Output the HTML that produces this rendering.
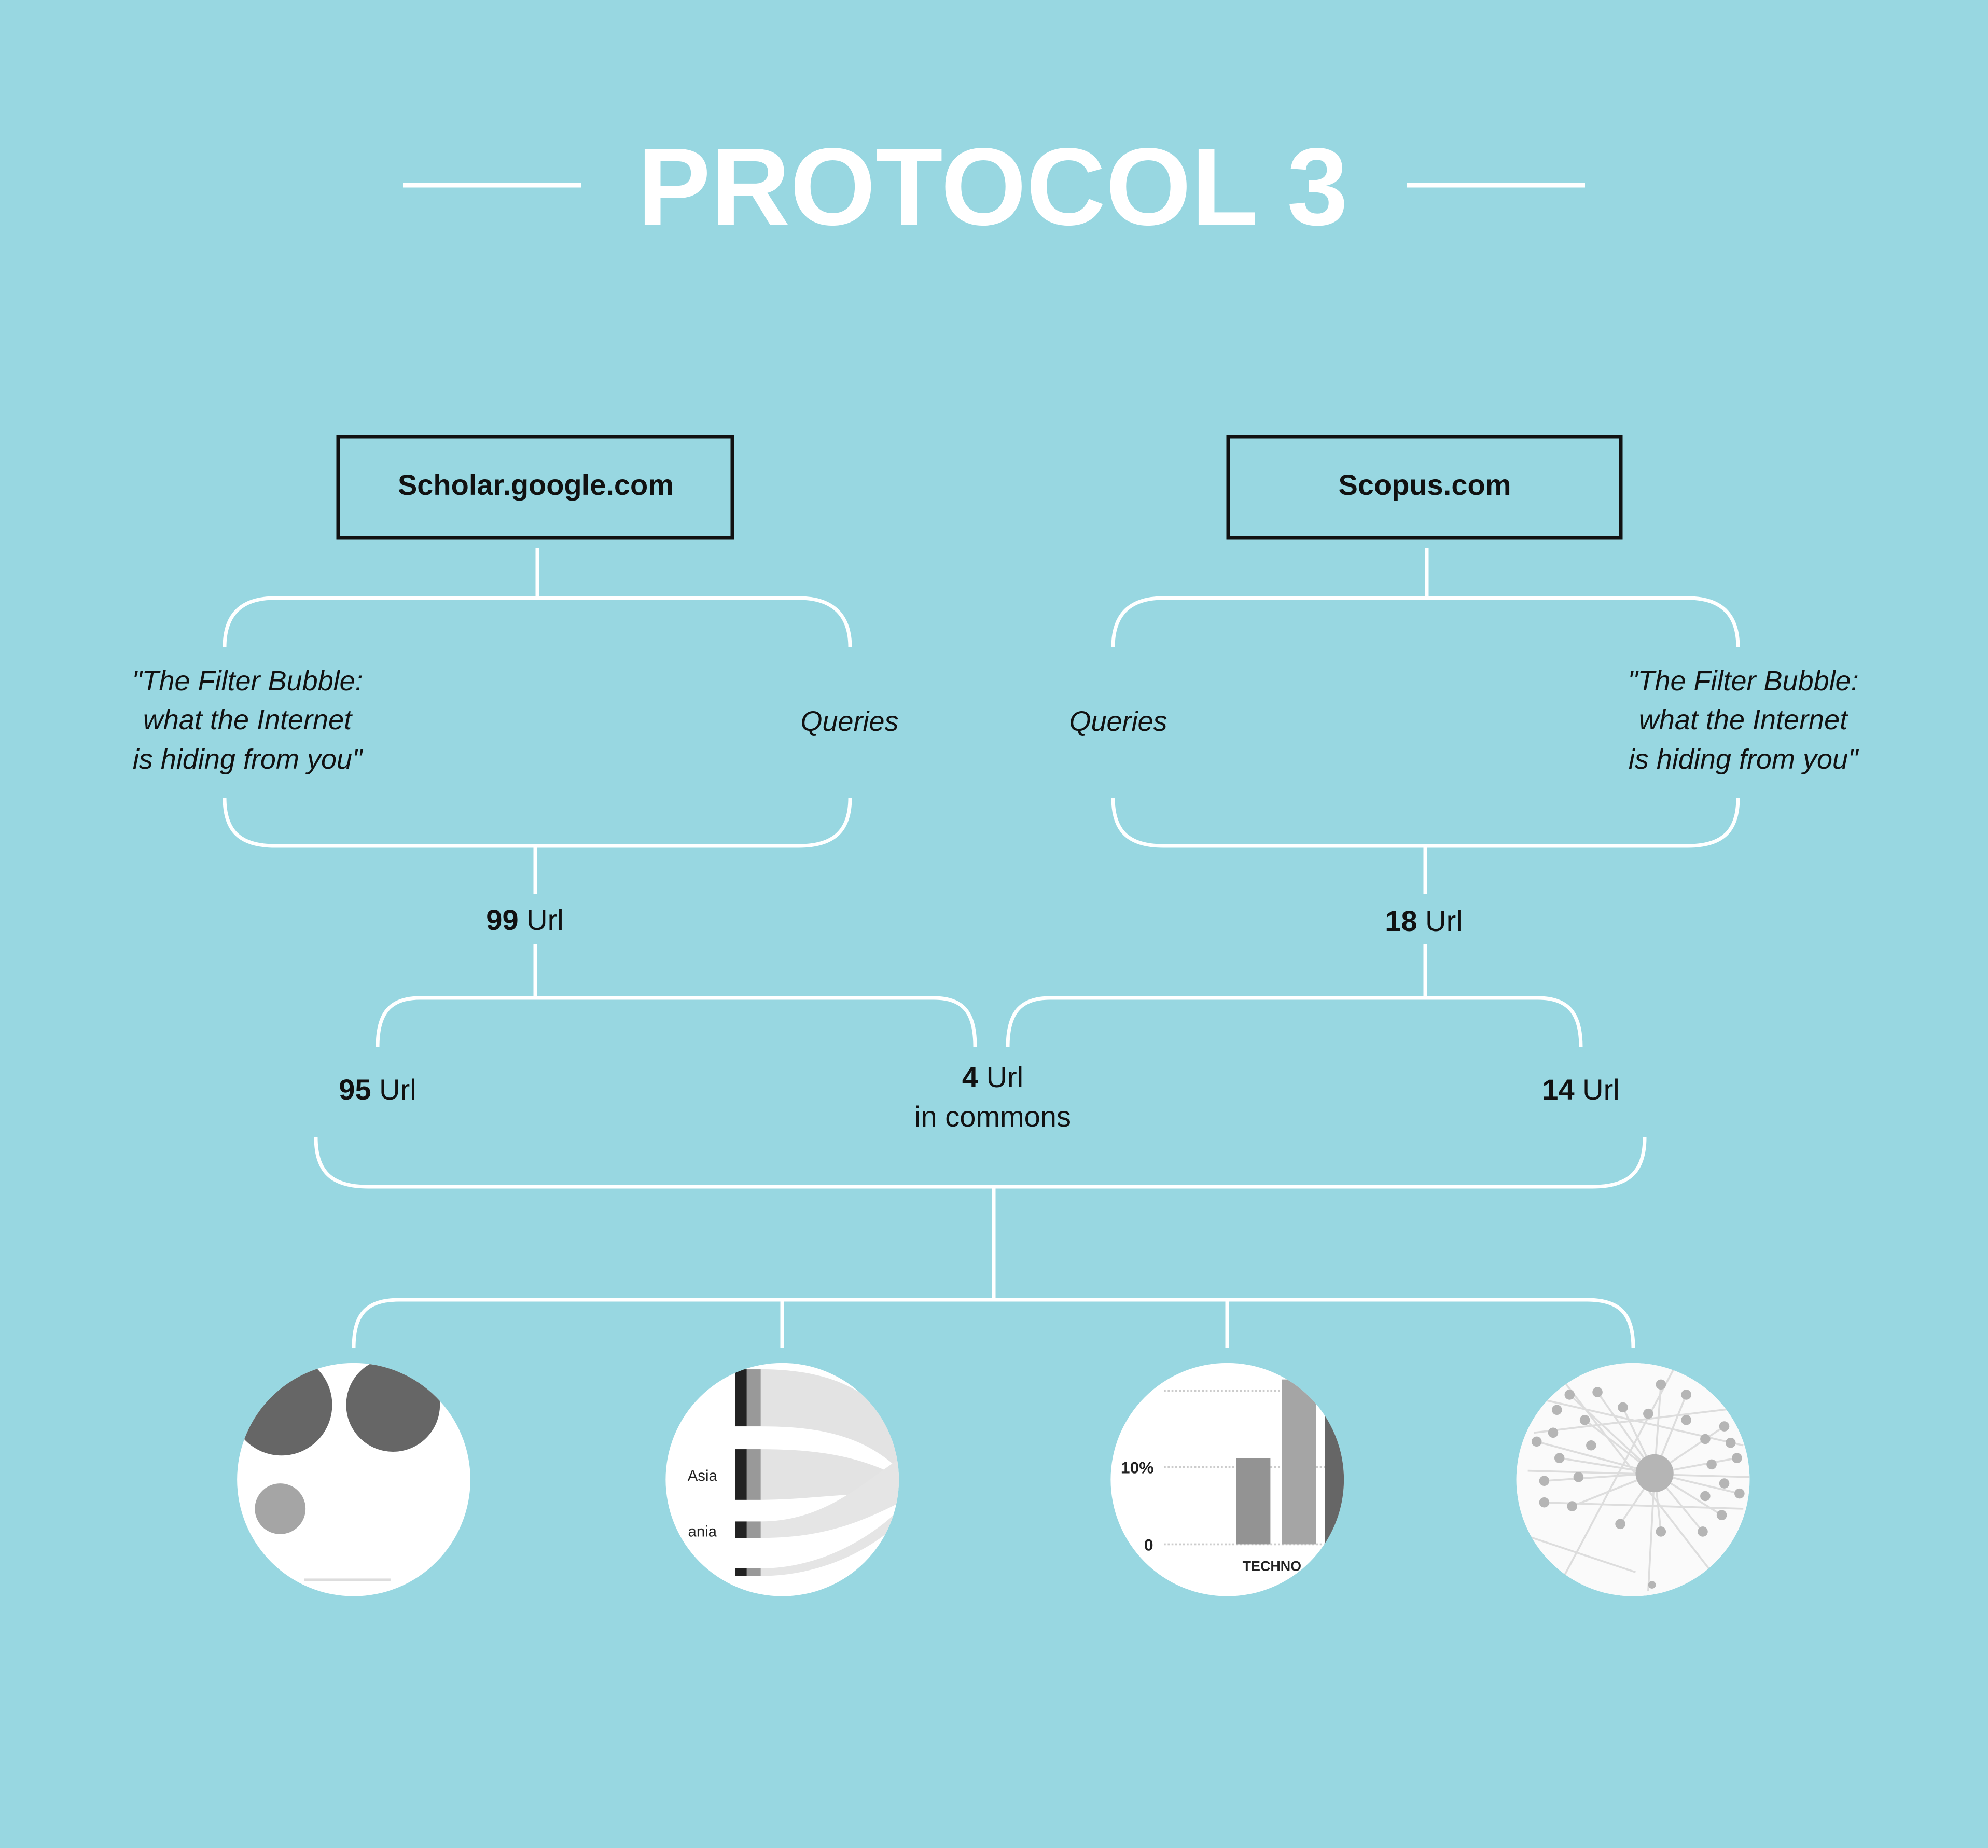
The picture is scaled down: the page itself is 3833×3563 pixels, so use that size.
<!DOCTYPE html>
<html><head><meta charset="utf-8"><style>
html,body{margin:0;padding:0;background:#98d7e1;}
svg{display:block}
text{font-family:"Liberation Sans",sans-serif;}
</style></head><body>
<svg width="3833" height="3563" viewBox="0 0 3833 3563" xmlns="http://www.w3.org/2000/svg">
<rect width="3833" height="3563" fill="#98d7e1"/>
<defs>
<clipPath id="c1"><circle cx="279" cy="1167" r="92"/></clipPath>
<clipPath id="c2"><circle cx="617" cy="1167" r="92"/></clipPath>
<clipPath id="c3"><circle cx="968" cy="1167" r="92"/></clipPath>
<clipPath id="c4"><circle cx="1288" cy="1167" r="92"/></clipPath>
</defs>
<!-- title -->
<line x1="777" y1="357" x2="1120" y2="357" stroke="#fff" stroke-width="9"/>
<line x1="2713" y1="357" x2="3056" y2="357" stroke="#fff" stroke-width="9"/>
<text x="1914" y="433" font-size="212" font-weight="bold" fill="#fff" text-anchor="middle">PROTOCOL 3</text>
<!-- boxes -->
<rect x="652" y="842" width="760" height="195" fill="none" stroke="#111" stroke-width="7"/>
<rect x="2368" y="842" width="757" height="195" fill="none" stroke="#111" stroke-width="7"/>
<text x="1033" y="954" font-size="56" font-weight="bold" fill="#111" text-anchor="middle">Scholar.google.com</text>
<text x="2747" y="954" font-size="56" font-weight="bold" fill="#111" text-anchor="middle">Scopus.com</text>
<g fill="none" stroke="#fff" stroke-width="7">
<line x1="1036" y1="1057" x2="1036" y2="1153"/>
<line x1="2751" y1="1057" x2="2751" y2="1153"/>
<path d="M433,1248 C433,1190 460,1153 530,1153 H1540 C1610,1153 1639,1190 1639,1248"/>
<path d="M433,1538 C433,1600 460,1631 530,1631 H1540 C1610,1631 1639,1600 1639,1538"/>
<path d="M2146,1248 C2146,1190 2173,1153 2243,1153 H3254 C3324,1153 3351,1190 3351,1248"/>
<path d="M2146,1538 C2146,1600 2173,1631 2243,1631 H3254 C3324,1631 3351,1600 3351,1538"/>
<line x1="1032" y1="1631" x2="1032" y2="1723"/>
<line x1="1032" y1="1821" x2="1032" y2="1924"/>
<line x1="2748" y1="1631" x2="2748" y2="1723"/>
<line x1="2748" y1="1821" x2="2748" y2="1924"/>
<path d="M728,2019 C728,1955 750,1924 810,1924 H1800 C1860,1924 1880,1955 1880,2019"/>
<path d="M1943,2019 C1943,1955 1965,1924 2025,1924 H2965 C3025,1924 3048,1955 3048,2019"/>
<path d="M609,2193 C609,2260 640,2288 710,2288 H3070 C3140,2288 3171,2260 3171,2193"/>
<line x1="1916" y1="2288" x2="1916" y2="2506"/>
<path d="M682,2599 C682,2535 705,2506 770,2506 H3060 C3125,2506 3149,2535 3149,2599"/>
<line x1="1508" y1="2506" x2="1508" y2="2599"/>
<line x1="2366" y1="2506" x2="2366" y2="2599"/>
</g>
<g font-size="54" font-style="italic" fill="#111" text-anchor="middle">
<text x="477" y="1331">"The Filter Bubble:</text>
<text x="477" y="1406">what the Internet</text>
<text x="477" y="1482">is hiding from you"</text>
<text x="1638" y="1409">Queries</text>
<text x="2156" y="1409">Queries</text>
<text x="3361" y="1331">"The Filter Bubble:</text>
<text x="3361" y="1406">what the Internet</text>
<text x="3361" y="1482">is hiding from you"</text>
</g>
<g font-size="56" fill="#111" text-anchor="middle">
<text x="1012" y="1793"><tspan font-weight="bold">99</tspan> Url</text>
<text x="2745" y="1795"><tspan font-weight="bold">18</tspan> Url</text>
<text x="728" y="2120"><tspan font-weight="bold">95</tspan> Url</text>
<text x="1914" y="2096"><tspan font-weight="bold">4</tspan> Url</text>
<text x="1914" y="2172">in commons</text>
<text x="3048" y="2120"><tspan font-weight="bold">14</tspan> Url</text>
</g>
<g transform="scale(2.4445)">
<circle cx="279" cy="1167" r="92" fill="#fff"/>
<circle cx="617" cy="1167" r="92" fill="#fff"/>
<circle cx="968" cy="1167" r="92" fill="#fff"/>
<circle cx="1288" cy="1167" r="92" fill="#fff"/>
<g clip-path="url(#c1)">
<circle cx="222" cy="1108" r="40" fill="#666"/>
<circle cx="310" cy="1108" r="37" fill="#666"/>
<circle cx="221" cy="1190" r="20" fill="#a5a5a5"/>
<rect x="240" y="1245" width="68" height="2" fill="#ddd"/>
</g>
<g clip-path="url(#c2)">
<path d="M600,1080 C660,1080 690,1100 710,1130 L710,1160 C680,1130 640,1125 600,1125Z" fill="#e3e3e3"/>
<path d="M600,1143 C650,1143 680,1150 710,1165 L710,1180 C680,1175 640,1183 600,1183Z" fill="#e3e3e3"/>
<path d="M600,1200 C650,1200 680,1170 710,1150 L710,1185 C680,1200 650,1213 600,1213Z" fill="#e5e5e5"/>
<path d="M600,1237 C650,1237 690,1210 710,1190 L710,1200 C690,1220 650,1243 600,1243Z" fill="#e5e5e5"/>
<rect x="580" y="1080" width="9" height="45" fill="#222"/><rect x="589" y="1080" width="11" height="45" fill="#999"/>
<rect x="580" y="1143" width="9" height="40" fill="#222"/><rect x="589" y="1143" width="11" height="40" fill="#999"/>
<rect x="580" y="1200" width="9" height="13" fill="#222"/><rect x="589" y="1200" width="11" height="13" fill="#999"/>
<rect x="580" y="1237" width="9" height="6" fill="#222"/><rect x="589" y="1237" width="11" height="6" fill="#999"/>
<text x="554" y="1168" font-size="12" fill="#222" text-anchor="middle">Asia</text>
<text x="554" y="1212" font-size="12" fill="#222" text-anchor="middle">ania</text>
</g>
<g clip-path="url(#c3)">
<g stroke="#ccc" stroke-width="1.5" stroke-dasharray="1.5,1.5">
<line x1="918" y1="1097" x2="1060" y2="1097"/>
<line x1="918" y1="1157" x2="1060" y2="1157"/>
<line x1="918" y1="1218" x2="1060" y2="1218"/>
</g>
<rect x="975" y="1150" width="27" height="68" fill="#939393"/>
<rect x="1011" y="1088" width="27" height="130" fill="#a5a5a5"/>
<rect x="1045" y="1110" width="15" height="108" fill="#666"/>
<text x="897" y="1162" font-size="13" font-weight="bold" fill="#222" text-anchor="middle">10%</text>
<text x="906" y="1223" font-size="13" font-weight="bold" fill="#222" text-anchor="middle">0</text>
<text x="980" y="1239" font-size="11" font-weight="bold" fill="#222">TECHNO</text>
</g>
<g clip-path="url(#c4)">
<rect x="1196" y="1075" width="184" height="184" fill="#fafafa"/>
<g stroke="#ddd" stroke-width="1.5">
<line x1="1305" y1="1162" x2="1238" y2="1100"/><line x1="1305" y1="1162" x2="1260" y2="1098"/>
<line x1="1305" y1="1162" x2="1280" y2="1110"/><line x1="1305" y1="1162" x2="1310" y2="1092"/>
<line x1="1305" y1="1162" x2="1330" y2="1100"/><line x1="1305" y1="1162" x2="1360" y2="1125"/>
<line x1="1305" y1="1162" x2="1370" y2="1150"/><line x1="1305" y1="1162" x2="1372" y2="1178"/>
<line x1="1305" y1="1162" x2="1358" y2="1195"/><line x1="1305" y1="1162" x2="1343" y2="1208"/>
<line x1="1305" y1="1162" x2="1310" y2="1208"/><line x1="1305" y1="1162" x2="1278" y2="1202"/>
<line x1="1305" y1="1162" x2="1240" y2="1188"/><line x1="1305" y1="1162" x2="1218" y2="1168"/>
<line x1="1305" y1="1162" x2="1212" y2="1137"/><line x1="1305" y1="1162" x2="1230" y2="1150"/>
<line x1="1305" y1="1162" x2="1250" y2="1120"/><line x1="1305" y1="1162" x2="1300" y2="1255"/>
<line x1="1200" y1="1210" x2="1290" y2="1240"/><line x1="1200" y1="1100" x2="1375" y2="1140"/>
<line x1="1210" y1="1130" x2="1375" y2="1110"/><line x1="1205" y1="1160" x2="1380" y2="1165"/>
<line x1="1215" y1="1185" x2="1375" y2="1190"/><line x1="1230" y1="1085" x2="1350" y2="1240"/>
<line x1="1320" y1="1080" x2="1230" y2="1250"/>
</g>
<g fill="#b5b5b5">
<circle cx="1305" cy="1162" r="15"/>
<circle cx="1238" cy="1100" r="4"/><circle cx="1260" cy="1098" r="4"/><circle cx="1280" cy="1110" r="4"/>
<circle cx="1310" cy="1092" r="4"/><circle cx="1330" cy="1100" r="4"/><circle cx="1360" cy="1125" r="4"/>
<circle cx="1370" cy="1150" r="4"/><circle cx="1372" cy="1178" r="4"/><circle cx="1358" cy="1195" r="4"/>
<circle cx="1343" cy="1208" r="4"/><circle cx="1310" cy="1208" r="4"/><circle cx="1278" cy="1202" r="4"/>
<circle cx="1240" cy="1188" r="4"/><circle cx="1218" cy="1168" r="4"/><circle cx="1212" cy="1137" r="4"/>
<circle cx="1230" cy="1150" r="4"/><circle cx="1250" cy="1120" r="4"/><circle cx="1225" cy="1130" r="4"/>
<circle cx="1245" cy="1165" r="4"/><circle cx="1255" cy="1140" r="4"/><circle cx="1345" cy="1135" r="4"/>
<circle cx="1350" cy="1155" r="4"/><circle cx="1360" cy="1170" r="4"/><circle cx="1345" cy="1180" r="4"/>
<circle cx="1218" cy="1185" r="4"/><circle cx="1300" cy="1115" r="4"/><circle cx="1330" cy="1120" r="4"/>
<circle cx="1303" cy="1250" r="3"/><circle cx="1365" cy="1138" r="4"/><circle cx="1228" cy="1112" r="4"/>
</g>
</g>
</g>
</svg>
</body></html>
